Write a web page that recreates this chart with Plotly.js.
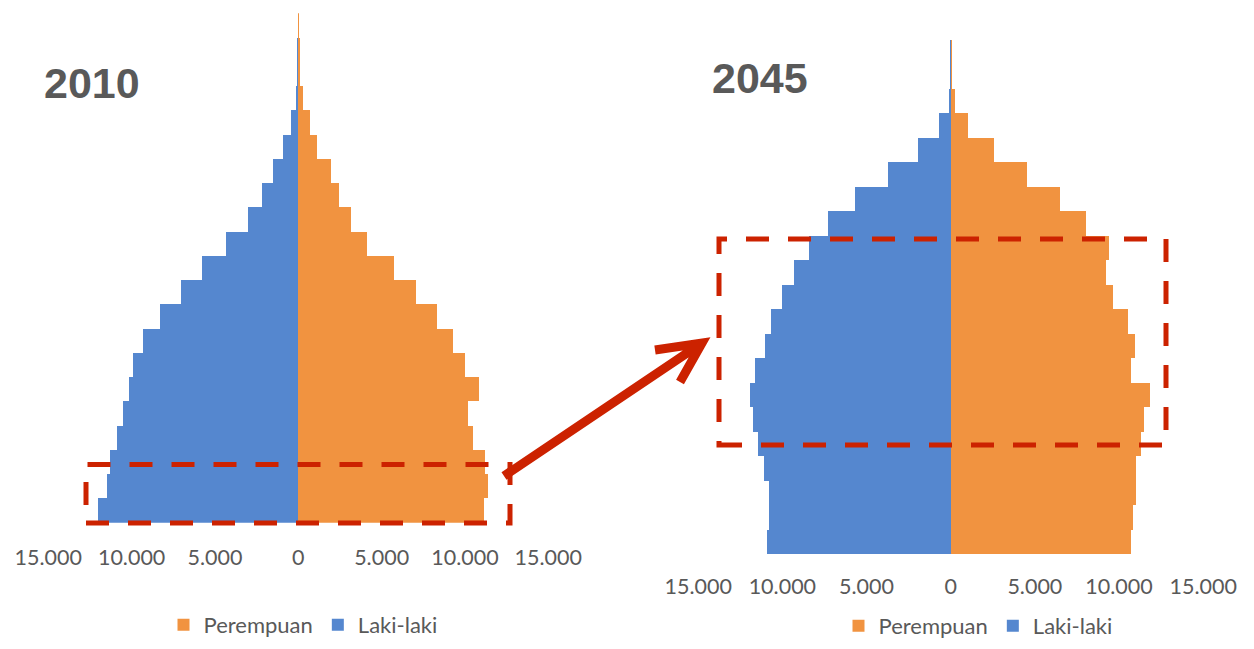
<!DOCTYPE html>
<html>
<head>
<meta charset="utf-8">
<script src="https://cdn.plot.ly/plotly-3.0.1.min.js"></script>
<style>
  html, body { margin: 0; padding: 0; background: #ffffff; }
  #chart { width: 1254px; height: 649px; }
</style>
</head>
<body>
<div id="chart"></div>
<script>
// Age groups, bottom (youngest) to top (oldest)
const ageGroups = ['0-4','5-9','10-14','15-19','20-24','25-29','30-34','35-39','40-44','45-49',
  '50-54','55-59','60-64','65-69','70-74','75-79','80-84','85-89','90-94','95-99','100+'];

// 2010
const male2010   = [12020, 11500, 11300, 10880, 10500, 10180, 9940, 9300, 8300, 7040, 5800, 4340, 3020, 2180, 1500, 940, 460, 140, 60, 50, 40];
const female2010 = [11160, 11400, 11200, 10460, 10160, 10840, 10000, 9260, 8340, 7060, 5760, 4100, 3160, 2460, 1940, 1140, 680, 260, 100, 90, 20];

// 2045
const male2045   = [10910, 10800, 10800, 11120, 11440, 11730, 11930, 11640, 11060, 10680, 10010, 9300, 8420, 7280, 5670, 3720, 1920, 670, 120, 50, 60];
const female2045 = [10690, 10830, 10990, 11020, 11280, 11460, 11810, 10720, 10940, 10560, 9670, 9220, 9420, 8030, 6520, 4560, 2600, 1010, 260, 100, 100];

const tickVals = [-15000, -10000, -5000, 0, 5000, 10000, 15000];
const tickText = ['15.000', '10.000', '5.000', '0', '5.000', '10.000', '15.000'];

const seriesNames = ['Perempuan', 'Laki-laki'];
const titles = ['2010', '2045'];

const ORANGE = '#F19340';
const BLUE = '#5587CF';
const RED = '#CC2200';
const GREY = '#595959';

const W = 1254, H = 649;
const px = x => x / W;
const py = y => 1 - y / H;

const neg = arr => arr.map(v => -v);

const data = [
  { type: 'bar', orientation: 'h', name: seriesNames[0], y: ageGroups, x: female2010,
    marker: { color: ORANGE }, xaxis: 'x', yaxis: 'y', legend: 'legend', hoverinfo: 'skip' },
  { type: 'bar', orientation: 'h', name: seriesNames[1], y: ageGroups, x: neg(male2010),
    marker: { color: BLUE }, xaxis: 'x', yaxis: 'y', legend: 'legend', hoverinfo: 'skip' },
  { type: 'bar', orientation: 'h', name: seriesNames[0], y: ageGroups, x: female2045,
    marker: { color: ORANGE }, xaxis: 'x2', yaxis: 'y2', legend: 'legend2', hoverinfo: 'skip' },
  { type: 'bar', orientation: 'h', name: seriesNames[1], y: ageGroups, x: neg(male2045),
    marker: { color: BLUE }, xaxis: 'x2', yaxis: 'y2', legend: 'legend2', hoverinfo: 'skip' }
];

const tickFont = { family: 'Lato, "Liberation Sans", sans-serif', size: 21.5, color: GREY };

const xaxisBase = {
  range: [-15000, 15000], tickmode: 'array', tickvals: tickVals, ticktext: tickText,
  showgrid: false, zeroline: false, showline: false, ticks: '', tickfont: tickFont,
  fixedrange: true
};
const yaxisBase = {
  type: 'category', showticklabels: false, showgrid: false, zeroline: false, showline: false,
  ticks: '', fixedrange: true
};

const legendBase = {
  orientation: 'h', xanchor: 'center', yanchor: 'middle', traceorder: 'normal',
  font: { family: 'Lato, "Liberation Sans", sans-serif', size: 22, color: GREY },
  bgcolor: 'rgba(0,0,0,0)', itemwidth: 30
};

const rectLine = { color: RED, width: 5, dash: '23px,19px' };

// arrow geometry (pixel positions converted to paper units)
const tail = [504, 476];
const tip = [702, 343];
const wingA = [655, 350];
const wingB = [680, 382];
const arrowPath = 'M' + px(tail[0]) + ',' + py(tail[1]) + ' L' + px(tip[0]) + ',' + py(tip[1]) +
  ' M' + px(wingA[0]) + ',' + py(wingA[1]) + ' L' + px(tip[0]) + ',' + py(tip[1]) +
  ' L' + px(wingB[0]) + ',' + py(wingB[1]);

const layout = {
  width: W, height: H,
  margin: { l: 0, r: 0, t: 0, b: 0 },
  paper_bgcolor: '#ffffff', plot_bgcolor: 'rgba(0,0,0,0)',
  barmode: 'relative', bargap: 0,
  showlegend: true,
  xaxis: Object.assign({}, xaxisBase, { domain: [px(48.3), px(548.3)], anchor: 'y', ticklabelstandoff: 20 }),
  yaxis: Object.assign({}, yaxisBase, { domain: [py(522.7), py(13.3)], anchor: 'x' }),
  xaxis2: Object.assign({}, xaxisBase, { domain: [px(698.2), px(1203.2)], anchor: 'y2', ticklabelstandoff: 17 }),
  yaxis2: Object.assign({}, yaxisBase, { domain: [py(554.3), py(40)], anchor: 'x2' }),
  legend: Object.assign({}, legendBase, { x: px(303), y: py(625) }),
  legend2: Object.assign({}, legendBase, { x: px(978), y: py(626) }),
  annotations: [
    { text: titles[0], xref: 'paper', yref: 'paper', x: px(91.5), y: py(83), xanchor: 'center', yanchor: 'middle',
      showarrow: false, font: { family: '"Liberation Sans", Arial, sans-serif', size: 43, color: GREY, weight: 700 } },
    { text: titles[1], xref: 'paper', yref: 'paper', x: px(760), y: py(78), xanchor: 'center', yanchor: 'middle',
      showarrow: false, font: { family: '"Liberation Sans", Arial, sans-serif', size: 43, color: GREY, weight: 700 } }
  ],
  shapes: [
    { type: 'rect', xref: 'paper', yref: 'paper', x0: px(86), x1: px(510), y0: py(523), y1: py(464.5), line: rectLine },
    { type: 'rect', xref: 'paper', yref: 'paper', x0: px(719), x1: px(1166), y0: py(445), y1: py(239), line: rectLine },
    { type: 'path', xref: 'paper', yref: 'paper', path: arrowPath, line: { color: RED, width: 9 } }
  ]
};

Plotly.newPlot('chart', data, layout, { staticPlot: true, displayModeBar: false });
</script>
</body>
</html>
